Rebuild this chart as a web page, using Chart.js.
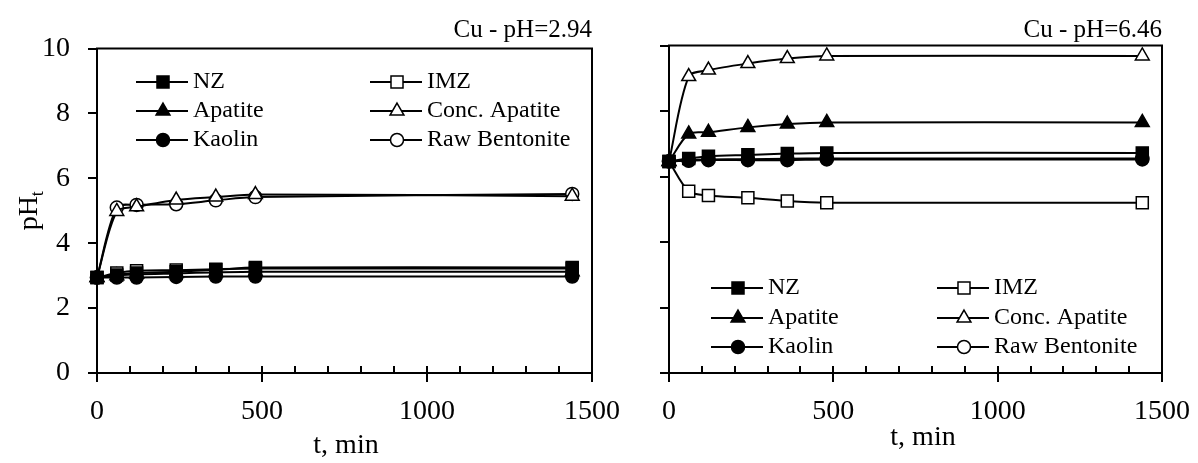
<!DOCTYPE html>
<html>
<head>
<meta charset="utf-8">
<script src="https://cdn.jsdelivr.net/npm/chart.js@4"></script>
<style>
    html, body { margin: 0; padding: 0; background: #fff; }
    #wrap { position: relative; width: 1198px; height: 463px; overflow: hidden; }
    canvas { position: absolute; top: 0; }
    #right { left: 600px; }
    #left { left: 0; }
</style>
</head>
<body>
<div id="wrap">
    <canvas id="right" width="680" height="463"></canvas>
    <canvas id="left" width="680" height="463"></canvas>
</div>
<script>
// Data
const times = [0, 60, 120, 240, 360, 480, 1440];
const seriesNames = ['NZ', 'IMZ', 'Apatite', 'Conc. Apatite', 'Kaolin', 'Raw Bentonite'];

// Cu - pH=2.94
const nzLow = [2.94, 3.02, 3.08, 3.12, 3.18, 3.25, 3.25];
const imzLow = [2.94, 3.08, 3.15, 3.17, 3.2, 3.22, 3.22];
const apatiteLow = [2.94, 3.0, 3.04, 3.07, 3.1, 3.12, 3.12];
const concApatiteLow = [2.94, 4.98, 5.12, 5.33, 5.42, 5.5, 5.45];
const kaolinLow = [2.94, 2.94, 2.94, 2.96, 2.97, 2.97, 2.97];
const rawBentoniteLow = [2.94, 5.1, 5.18, 5.2, 5.32, 5.42, 5.52];

// Cu - pH=6.46
const nzHigh = [6.46, 6.55, 6.62, 6.66, 6.7, 6.72, 6.72];
const imzHigh = [6.46, 5.55, 5.42, 5.35, 5.25, 5.2, 5.2];
const apatiteHigh = [6.46, 7.3, 7.35, 7.5, 7.6, 7.65, 7.65];
const concApatiteHigh = [6.46, 9.05, 9.25, 9.45, 9.6, 9.68, 9.68];
const kaolinHigh = [6.46, 6.48, 6.5, 6.5, 6.5, 6.52, 6.52];
const rawBentoniteHigh = [6.46, 6.5, 6.52, 6.53, 6.54, 6.55, 6.55];

const xTicks = [0, 500, 1000, 1500];
const yTicks = [0, 2, 4, 6, 8, 10];

const serif = "'Times New Roman', 'Liberation Serif', serif";
Chart.defaults.font.family = serif;
Chart.defaults.color = '#000';

const markers = [
    { pointStyle: 'rect', radius: 8.5, fill: '#000' },
    { pointStyle: 'rect', radius: 8.5, fill: '#fff' },
    { pointStyle: 'triangle', radius: 8, fill: '#000' },
    { pointStyle: 'triangle', radius: 8, fill: '#fff' },
    { pointStyle: 'circle', radius: 6.5, fill: '#000' },
    { pointStyle: 'circle', radius: 6.5, fill: '#fff' }
];

function makeDatasets(series) {
    return series.map((vals, i) => ({
        label: seriesNames[i],
        data: times.map((t, k) => ({ x: t, y: vals[k] })),
        borderColor: '#000',
        borderWidth: 2,
        tension: 0.3,
        pointStyle: markers[i].pointStyle,
        pointRadius: markers[i].radius,
        pointHoverRadius: markers[i].radius,
        pointBackgroundColor: markers[i].fill,
        pointBorderColor: '#000',
        pointBorderWidth: 1.5,
        clip: false
    }));
}

// frame, tick marks, titles and legend
const panelDecor = {
    id: 'panelDecor',
    beforeDatasetsDraw(chart, args, opts) {
        const { ctx, chartArea: a, scales: { x, y } } = chart;
        ctx.save();
        ctx.strokeStyle = '#000';
        ctx.lineWidth = 2;
        ctx.strokeRect(a.left, a.top, a.right - a.left, a.bottom - a.top);
        ctx.beginPath();
        yTicks.forEach(v => {
            const py = Math.round(y.getPixelForValue(v));
            ctx.moveTo(a.left - 9, py);
            ctx.lineTo(a.left, py);
        });
        for (let v = 0; v <= 1500; v += 100) {
            const px = Math.round(x.getPixelForValue(v));
            ctx.moveTo(px, a.bottom - 7);
            ctx.lineTo(px, v % 500 === 0 ? a.bottom + 9 : a.bottom);
        }
        ctx.stroke();
        ctx.restore();
    },
    afterDatasetsDraw(chart, args, opts) {
        const { ctx, chartArea: a } = chart;
        ctx.save();
        ctx.fillStyle = '#000';

        // panel title
        ctx.font = '25px ' + serif;
        ctx.textAlign = 'right';
        ctx.textBaseline = 'alphabetic';
        ctx.fillText(opts.title, a.right, 37);

        // x title
        ctx.font = '28px ' + serif;
        ctx.textAlign = 'center';
        ctx.textBaseline = 'middle';
        ctx.fillText('t, min', opts.xTitleX, opts.xTitleY);

        // y title pH with subscript t
        if (opts.yTitle) {
            ctx.save();
            ctx.translate(37, (a.top + a.bottom) / 2);
            ctx.rotate(-Math.PI / 2);
            ctx.textBaseline = 'alphabetic';
            ctx.textAlign = 'left';
            ctx.font = '28px ' + serif;
            const w1 = ctx.measureText('pH').width;
            ctx.font = '18px ' + serif;
            const w2 = ctx.measureText('t').width;
            const start = -(w1 + w2) / 2;
            ctx.font = '28px ' + serif;
            ctx.fillText('pH', start, 0);
            ctx.font = '18px ' + serif;
            ctx.fillText('t', start + w1, 6);
            ctx.restore();
        }

        // legend
        ctx.font = '24px ' + serif;
        ctx.textAlign = 'left';
        ctx.textBaseline = 'middle';
        chart.data.datasets.forEach((ds, i) => {
            const x0 = opts.legendCols[i % 2];
            const y0 = opts.legendRows[Math.floor(i / 2)];
            ctx.strokeStyle = '#000';
            ctx.lineWidth = 2;
            ctx.beginPath();
            ctx.moveTo(x0, y0);
            ctx.lineTo(x0 + 52, y0);
            ctx.stroke();
            ctx.fillStyle = ds.pointBackgroundColor;
            ctx.lineWidth = 1.5;
            Chart.helpers.drawPoint(ctx, {
                pointStyle: ds.pointStyle, radius: ds.pointRadius, rotation: 0, borderWidth: 1.5
            }, x0 + 27, y0);
            ctx.fillStyle = '#000';
            ctx.fillText(ds.label, x0 + 57, y0);
        });
        ctx.restore();
    }
};

function makeChart(canvasId, series, cfg) {
    const w = document.getElementById(canvasId).width;
    return new Chart(document.getElementById(canvasId), {
        type: 'line',
        data: { datasets: makeDatasets(series) },
        options: {
            responsive: false,
            animation: false,
            events: [],
            layout: { padding: { left: 0, top: cfg.top, right: w - cfg.right, bottom: 0 } },
            plugins: {
                legend: { display: false },
                tooltip: { enabled: false },
                panelDecor: cfg
            },
            scales: {
                x: {
                    type: 'linear',
                    min: 0, max: 1500,
                    afterBuildTicks: s => { s.ticks = xTicks.map(v => ({ value: v })); },
                    grid: { display: false, drawTicks: false },
                    border: { display: false },
                    ticks: {
                        padding: 22, font: { size: 28 }, color: '#000',
                        maxRotation: 0, autoSkip: false, callback: v => String(v)
                    },
                    afterFit: s => { s.height = 463 - cfg.bottom; }
                },
                y: {
                    min: 0, max: 10,
                    afterBuildTicks: s => { s.ticks = yTicks.map(v => ({ value: v })); },
                    grid: { display: false, drawTicks: false },
                    border: { display: false },
                    ticks: { display: cfg.yLabels, padding: 27, font: { size: 28 }, color: '#000', callback: v => String(v) },
                    afterFit: s => { s.width = cfg.left; }
                }
            }
        },
        plugins: [panelDecor]
    });
}

makeChart('left',
    [nzLow, imzLow, apatiteLow, concApatiteLow, kaolinLow, rawBentoniteLow],
    {
        title: 'Cu - pH=2.94', yTitle: true, yLabels: true,
        left: 97, right: 592, top: 48.5, bottom: 373,
        xTitleX: 346, xTitleY: 446,
        legendCols: [136, 370], legendRows: [82, 111, 140]
    });

makeChart('right',
    [nzHigh, imzHigh, apatiteHigh, concApatiteHigh, kaolinHigh, rawBentoniteHigh],
    {
        title: 'Cu - pH=6.46', yTitle: false, yLabels: false,
        left: 69, right: 562, top: 45.5, bottom: 373,
        xTitleX: 323, xTitleY: 438,
        legendCols: [111, 337], legendRows: [288, 318, 347]
    });
</script>
</body>
</html>
